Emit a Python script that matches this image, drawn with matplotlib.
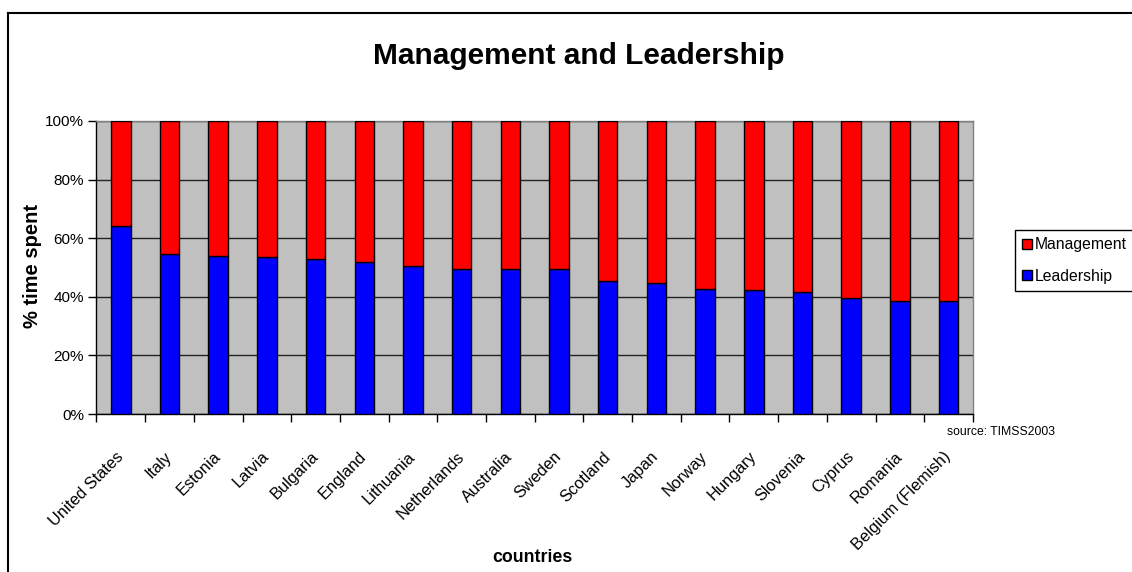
import numpy as np
import matplotlib
matplotlib.use("Agg")
import matplotlib.pyplot as plt
from matplotlib.lines import Line2D

plt.rcParams["font.family"] = ["Liberation Sans", "DejaVu Sans"]

# ── Données ──
countries = ["United States", "Italy", "Estonia", "Latvia", "Bulgaria", "England",
             "Lithuania", "Netherlands", "Australia", "Sweden", "Scotland", "Japan",
             "Norway", "Hungary", "Slovenia", "Cyprus", "Romania", "Belgium (Flemish)"]
leadership = [64.3, 54.6, 54.0, 53.6, 53.0, 52.0, 50.4, 49.5, 49.5, 49.4,
              45.3, 44.7, 42.8, 42.2, 41.6, 39.6, 38.7, 38.7]
management = [100 - v for v in leadership]
yticks = [0, 20, 40, 60, 80, 100]

fig = plt.figure(figsize=(11.32, 5.72), dpi=100)
ax = fig.add_axes([0.0852, 0.2762, 0.7743, 0.5123])
ax.set_facecolor("#C0C0C0")

x = np.arange(len(countries))
ax.bar(x, leadership, width=0.4, color="#0000FF", edgecolor="black", linewidth=1, zorder=3)
ax.bar(x, management, width=0.4, bottom=leadership, color="#FF0000",
       edgecolor="black", linewidth=1, zorder=3)

ax.set_xlim(-0.5, len(countries) - 0.5)
ax.set_ylim(0, 100)
ax.set_yticks(yticks)
ax.set_yticklabels([f"{v}%" for v in yticks], fontsize=11)
ax.yaxis.grid(True, color="#222222", linewidth=1, zorder=1)
ax.tick_params(axis="y", direction="out", length=6, width=1, pad=3)

# ticks entre catégories, étiquettes au centre
ax.set_xticks(x)
ax.set_xticklabels(countries, rotation=45, ha="right", va="center",
                   rotation_mode="anchor", fontsize=11.8)
ax.tick_params(axis="x", which="major", length=0, pad=29)
ax.set_xticks(np.arange(len(countries) + 1) - 0.5, minor=True)
ax.tick_params(axis="x", which="minor", direction="out", length=6, width=1)

for s in ["left", "bottom"]:
    ax.spines[s].set_color("black")
    ax.spines[s].set_linewidth(1)
for s in ["top", "right"]:
    ax.spines[s].set_color("#808080")
    ax.spines[s].set_linewidth(1)

fig.text(0.511, 0.902, "Management and Leadership", ha="center", va="center",
         fontsize=21.5, fontweight="bold")
fig.text(0.470, 0.025, "countries", ha="center", va="center", fontsize=12.8, fontweight="bold")
fig.text(0.029, 0.535, "% time spent", ha="center", va="center", rotation=90,
         fontsize=14.5, fontweight="bold")
fig.text(0.884, 0.245, "source: TIMSS2003", ha="center", va="center", fontsize=8.8)

handles = [Line2D([], [], marker="s", linestyle="none", markersize=7.5,
                  markerfacecolor="#FF0000", markeredgecolor="black"),
           Line2D([], [], marker="s", linestyle="none", markersize=7.5,
                  markerfacecolor="#0000FF", markeredgecolor="black")]
leg = fig.legend(handles, ["Management", "Leadership"], loc="upper left",
                 bbox_to_anchor=(1015 / 1132, 1 - 230 / 572), fontsize=11.3,
                 frameon=True, fancybox=False, framealpha=1, edgecolor="black",
                 handlelength=0.6, handletextpad=0.2, borderpad=0.45,
                 labelspacing=1.05, borderaxespad=0)
leg.get_frame().set_linewidth(1)

# cadre extérieur (haut et gauche)
fig.add_artist(Line2D([8 / 1132, 1], [1 - 13 / 572, 1 - 13 / 572], color="black",
                      linewidth=1.5, transform=fig.transFigure))
fig.add_artist(Line2D([8 / 1132, 8 / 1132], [0, 1 - 13 / 572], color="black",
                      linewidth=1.5, transform=fig.transFigure))

fig.savefig("out.png", dpi=100)
